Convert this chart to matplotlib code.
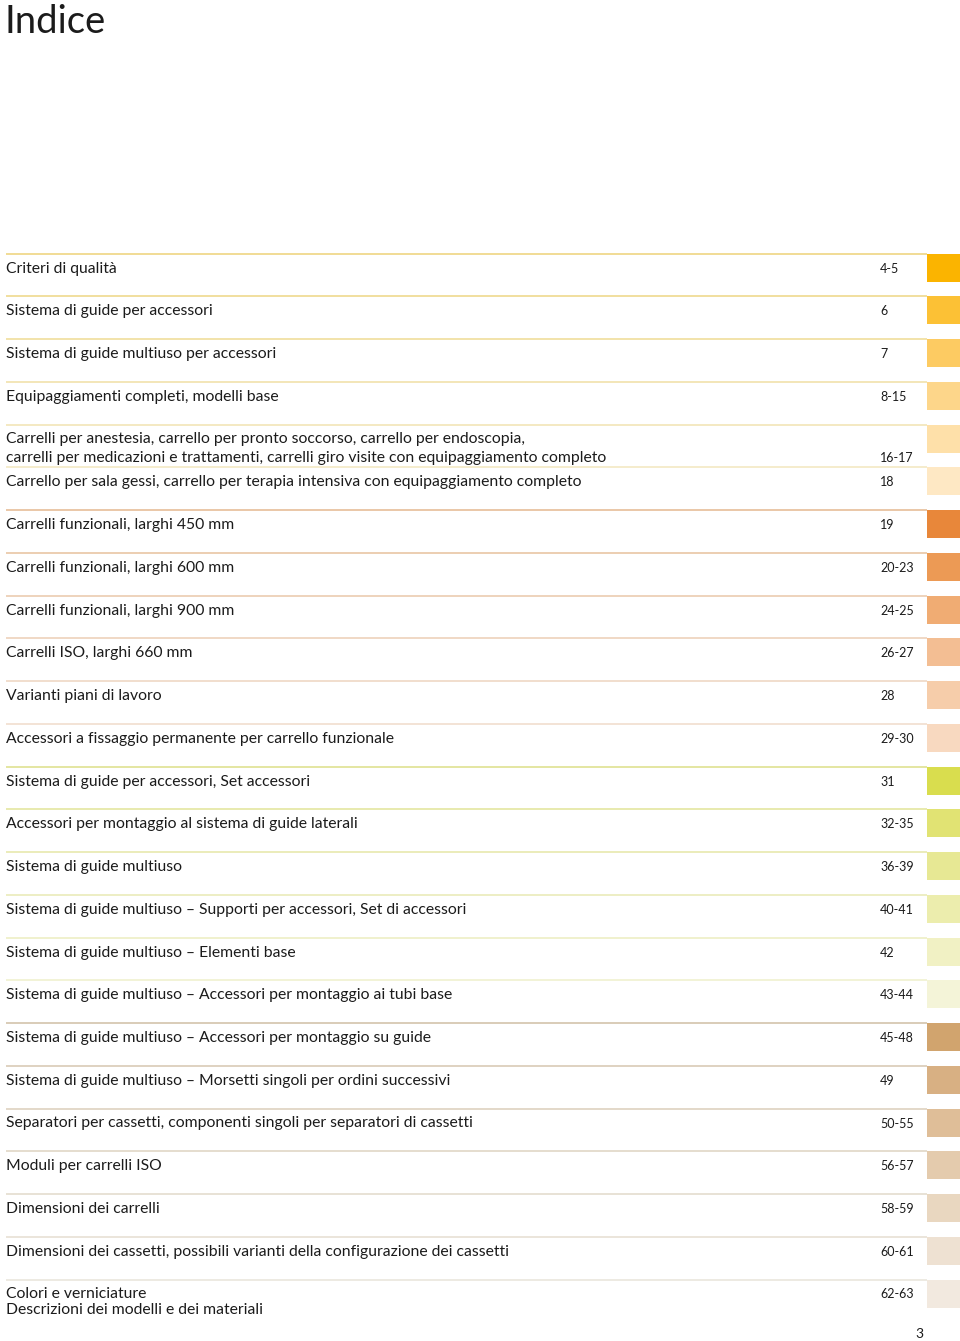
"""Indice page: table of contents with coloured section swatches."""

import matplotlib

matplotlib.use("Agg")
import matplotlib.pyplot as plt

TITLE = "Indice"
PAGE_NO = "3"

ENTRIES = [
    "Criteri di qualità",
    "Sistema di guide per accessori",
    "Sistema di guide multiuso per accessori",
    "Equipaggiamenti completi, modelli base",
    "Carrelli per anestesia, carrello per pronto soccorso, carrello per endoscopia,\n"
    "carrelli per medicazioni e trattamenti, carrelli giro visite con equipaggiamento completo",
    "Carrello per sala gessi, carrello per terapia intensiva con equipaggiamento completo",
    "Carrelli funzionali, larghi 450 mm",
    "Carrelli funzionali, larghi 600 mm",
    "Carrelli funzionali, larghi 900 mm",
    "Carrelli ISO, larghi 660 mm",
    "Varianti piani di lavoro",
    "Accessori a fissaggio permanente per carrello funzionale",
    "Sistema di guide per accessori, Set accessori",
    "Accessori per montaggio al sistema di guide laterali",
    "Sistema di guide multiuso",
    "Sistema di guide multiuso \u2013 Supporti per accessori, Set di accessori",
    "Sistema di guide multiuso \u2013 Elementi base",
    "Sistema di guide multiuso \u2013 Accessori per montaggio ai tubi base",
    "Sistema di guide multiuso \u2013 Accessori per montaggio su guide",
    "Sistema di guide multiuso \u2013 Morsetti singoli per ordini successivi",
    "Separatori per cassetti, componenti singoli per separatori di cassetti",
    "Moduli per carrelli ISO",
    "Dimensioni dei carrelli",
    "Dimensioni dei cassetti, possibili varianti della configurazione dei cassetti",
    "Colori e verniciature\nDescrizioni dei modelli e dei materiali",
]

PAGES = [
    "4-5", "6", "7", "8-15", "16-17", "18",
    "19", "20-23", "24-25", "26-27", "28", "29-30",
    "31", "32-35", "36-39", "40-41", "42", "43-44",
    "45-48", "49", "50-55", "56-57", "58-59", "60-61", "62-63",
]

# which text line of the entry the page number sits on
PAGE_LINE = [0, 0, 0, 0, 1, 0] + [0] * 19

SWATCHES = [
    "#fbb400", "#fcc135", "#fdcb62", "#fdd68a", "#fee0a9", "#fee8c4",
    "#e8873a", "#ec9a55", "#f0ac73", "#f3be93", "#f6cdaa", "#f8d9c0",
    "#d9dd4e", "#e1e373", "#e7e894", "#ecedad", "#f1f1c4", "#f4f4d8",
    "#d1a46e", "#d8b083", "#dfbe98", "#e4cbad", "#e9d7c0", "#eee1d2", "#f2e9df",
]

RULE_COLORS = [
    "#f0d98c", "#f0dc96", "#f1e0a4", "#f2e4b2", "#f3e7bd", "#f4ebc8",
    "#e8c3a0", "#ebcaab", "#edd0b6", "#efd6c0", "#f0dbc9", "#f2e0d2",
    "#e2e49a", "#e6e8a8", "#e9ebb4", "#ecedbf", "#eff0c9", "#f1f2d3",
    "#d7c8b2", "#dccfbc", "#e0d5c5", "#e3daca", "#e6dfd2", "#e9e3d8", "#ece8df",
]

# layout (pixels)
W, H = 960, 1341
TOP = 253.5
STEP = 42.75
X_TEXT = 6
X_PAGE = 880
X_SWATCH = 927
SWATCH_H = 28
INK = "#1b1b1b"

plt.rcParams["font.family"] = ["Lato", "DejaVu Sans"]

fig = plt.figure(figsize=(W / 100, H / 100), dpi=100)
ax = fig.add_axes([0, 0, 1, 1])
ax.set_xlim(0, W)
ax.set_ylim(H, 0)
ax.axis("off")

n = len(PAGES)
rule_y = [TOP + i * STEP for i in range(n)]

ax.hlines(rule_y, X_TEXT, X_SWATCH, colors=RULE_COLORS, linewidth=1.3)
ax.barh(
    [y + SWATCH_H / 2 for y in rule_y],
    W - X_SWATCH,
    left=X_SWATCH,
    height=SWATCH_H,
    color=SWATCHES,
    linewidth=0,
)

# entry text, line by line
line_gap = {4: 19, 24: 16}
for i, (label, page, pl) in enumerate(zip(ENTRIES, PAGES, PAGE_LINE)):
    y0 = rule_y[i] + (14.5 if i == 4 else 15)
    gap = line_gap.get(i, 18)
    for k, part in enumerate(label.split("\n")):
        ax.text(X_TEXT, y0 + k * gap, part, fontsize=11.3, color=INK,
                ha="left", va="center")
    ax.text(X_PAGE, y0 + pl * gap, page, fontsize=9, color=INK,
            ha="left", va="center")

ax.text(4, 22, TITLE, fontsize=27.5, color=INK, ha="left", va="center")
ax.text(915, 1334, PAGE_NO, fontsize=10, color=INK, ha="left", va="center")

fig.savefig("out.png", dpi=100)
